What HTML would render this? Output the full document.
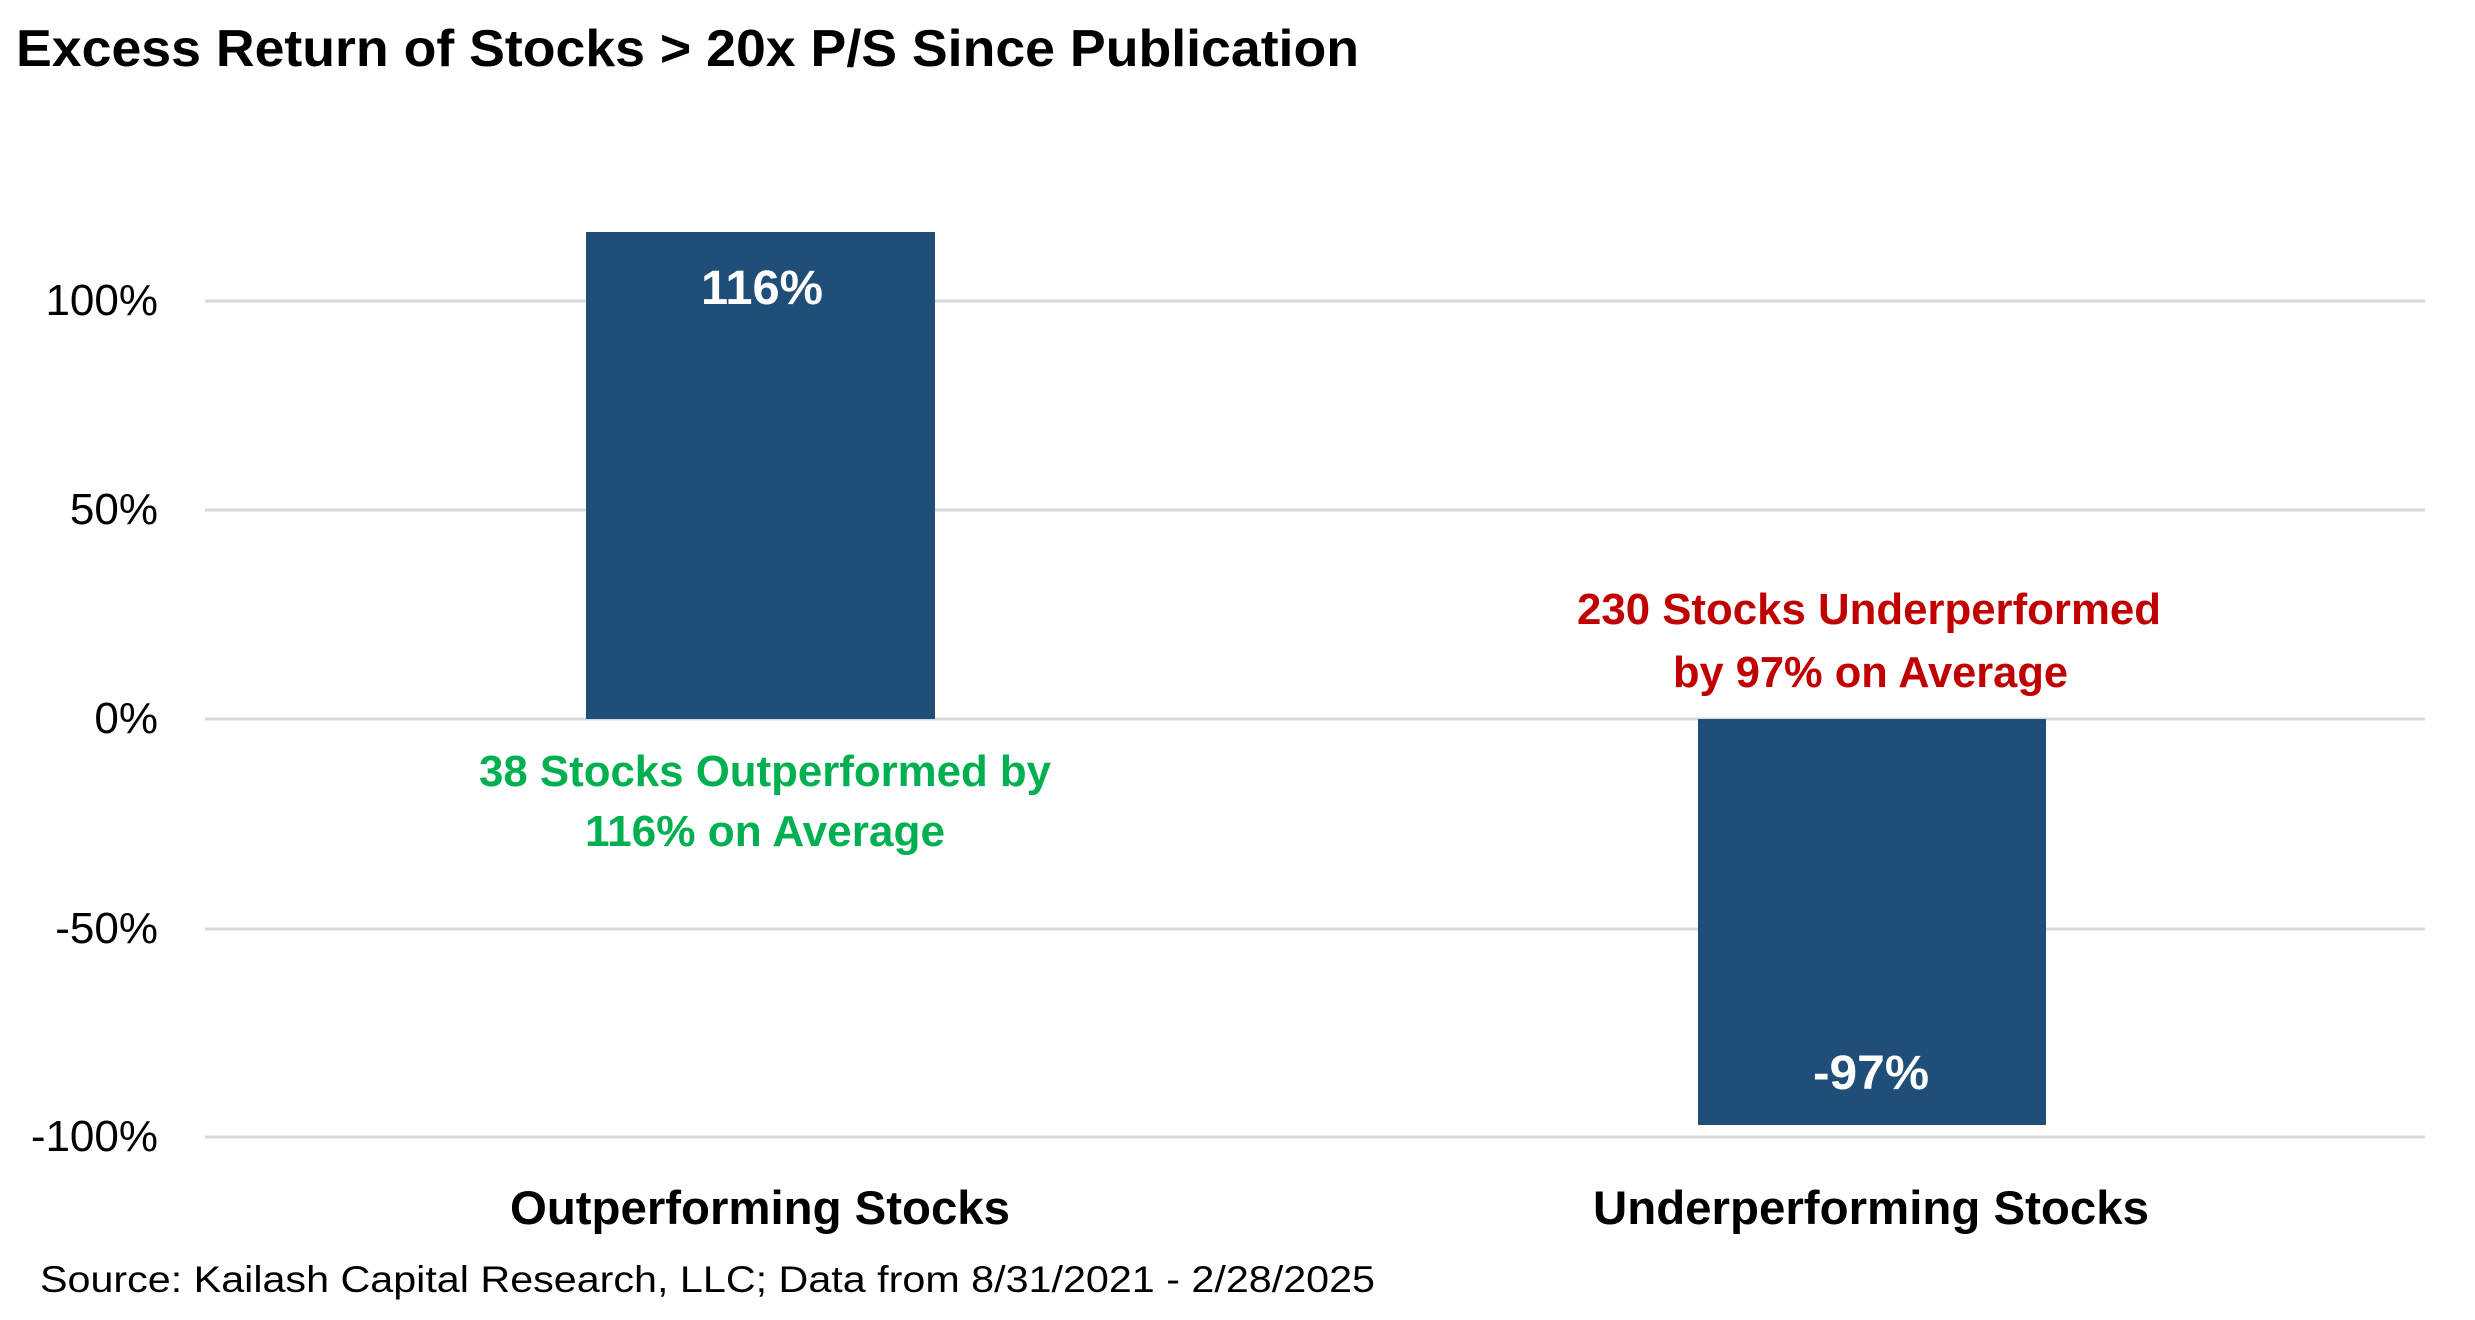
<!DOCTYPE html>
<html><head><meta charset="utf-8"><style>html,body{margin:0;padding:0;background:#fff}svg{display:block}</style></head>
<body>
<svg width="2475" height="1320" viewBox="0 0 2475 1320" xmlns="http://www.w3.org/2000/svg" font-family="'Liberation Sans', sans-serif">
<rect width="2475" height="1320" fill="#fff"/>
<g stroke="#d9d9d9" stroke-width="3">
<line x1="205" x2="2425" y1="301" y2="301"/>
<line x1="205" x2="2425" y1="510" y2="510"/>
<line x1="205" x2="2425" y1="719" y2="719"/>
<line x1="205" x2="2425" y1="929" y2="929"/>
<line x1="205" x2="2425" y1="1137" y2="1137"/>
</g>
<rect x="586" y="232" width="349" height="487" fill="#1F4E79"/>
<rect x="1698" y="719" width="348" height="406" fill="#1F4E79"/>
<text x="16" y="66" font-size="52" font-weight="bold" textLength="1343" lengthAdjust="spacingAndGlyphs">Excess Return of Stocks &gt; 20x P/S Since Publication</text>
<g font-size="44" text-anchor="end" fill="#000">
<text x="158" y="315">100%</text>
<text x="158" y="524">50%</text>
<text x="158" y="733">0%</text>
<text x="158" y="943">-50%</text>
<text x="158" y="1151">-100%</text>
</g>
<g font-weight="bold" fill="#fff" font-size="48" text-anchor="middle">
<text x="762" y="304" textLength="122" lengthAdjust="spacingAndGlyphs">116%</text>
<text x="1871" y="1089" textLength="116" lengthAdjust="spacingAndGlyphs">-97%</text>
</g>
<g font-weight="bold" font-size="44" fill="#00B050">
<text x="479" y="786" textLength="572" lengthAdjust="spacingAndGlyphs">38 Stocks Outperformed by</text>
<text x="585" y="846" textLength="360" lengthAdjust="spacingAndGlyphs">116% on Average</text>
</g>
<g font-weight="bold" font-size="44" fill="#C00000">
<text x="1577" y="624" textLength="584" lengthAdjust="spacingAndGlyphs">230 Stocks Underperformed</text>
<text x="1673" y="687" textLength="395" lengthAdjust="spacingAndGlyphs">by 97% on Average</text>
</g>
<g font-weight="bold" font-size="47" fill="#000">
<text x="510" y="1224" textLength="500" lengthAdjust="spacingAndGlyphs">Outperforming Stocks</text>
<text x="1593" y="1224" textLength="556" lengthAdjust="spacingAndGlyphs">Underperforming Stocks</text>
</g>
<text x="40" y="1292" font-size="37" fill="#000" textLength="1335" lengthAdjust="spacingAndGlyphs">Source: Kailash Capital Research, LLC; Data from 8/31/2021 - 2/28/2025</text>
</svg>
</body></html>
